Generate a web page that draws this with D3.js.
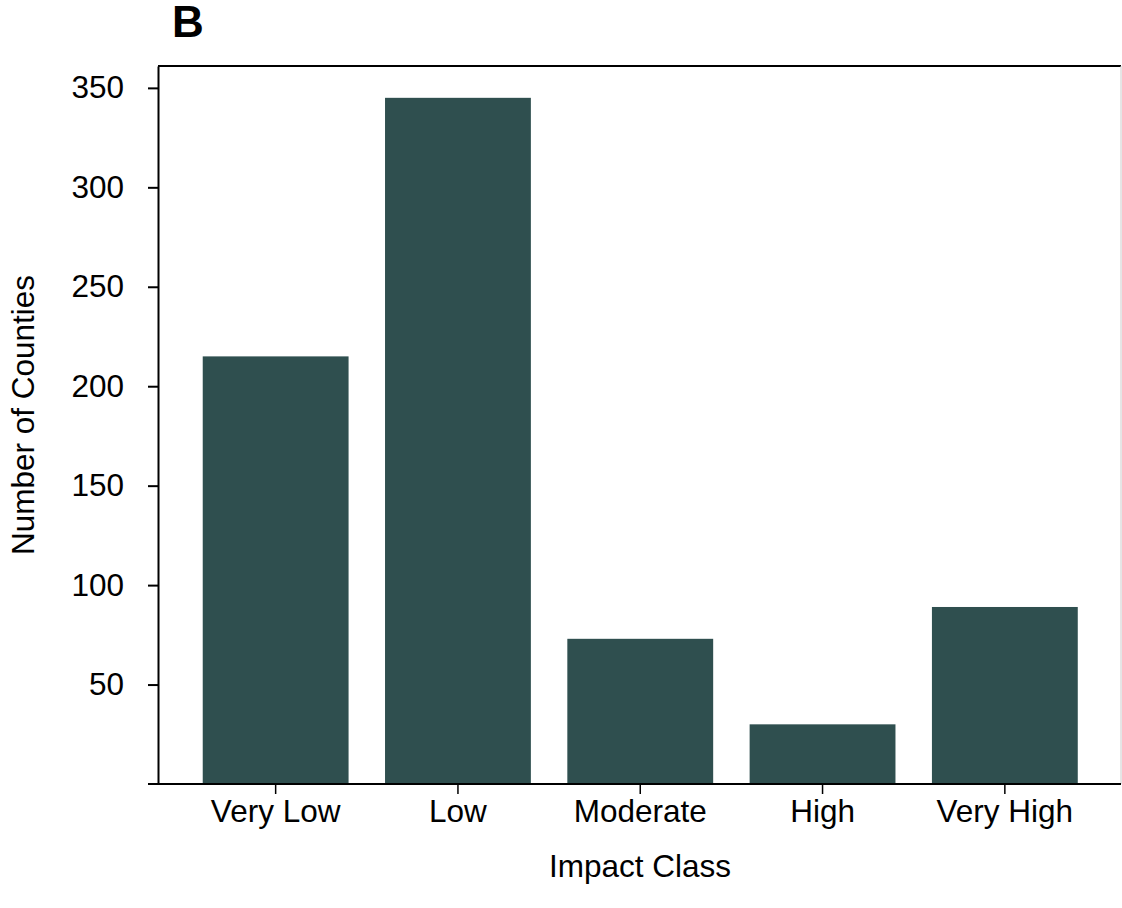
<!DOCTYPE html>
<html>
<head>
<meta charset="utf-8">
<script src="https://cdn.jsdelivr.net/npm/d3@7"></script>
<style>
  body { margin: 0; background: #fff; }
  svg { display: block; font-family: "Liberation Sans", Arial, sans-serif; }
</style>
</head>
<body>
<div id="chart"></div>
<script>
const categories = ['Very Low', 'Low', 'Moderate', 'High', 'Very High'];
const counts = [215, 345, 73, 30, 89];
const yTicks = [50, 100, 150, 200, 250, 300, 350];

const width = 1122;
const height = 908;
const marginTop = 66;
const marginRight = 1;
const marginBottom = 124;
const marginLeft = 158;
const fontSize = 31.5;

const svg = d3.select('#chart')
  .append('svg')
  .attr('width', width)
  .attr('height', height)
  .attr('viewBox', `0 0 ${width} ${height}`);

const x = d3.scaleBand()
  .domain(categories)
  .range([184.5, 1096])
  .paddingInner(0.2)
  .paddingOuter(0.1);

const y = d3.scaleLinear()
  .domain([0, 361])
  .range([height - marginBottom, marginTop]);

// bars
svg.append('g')
  .selectAll('rect')
  .data(counts)
  .join('rect')
  .attr('x', (d, i) => x(categories[i]))
  .attr('y', d => y(d))
  .attr('width', x.bandwidth())
  .attr('height', d => y(0) - y(d))
  .attr('fill', '#2f4f4f');

// frame top + right
svg.append('line')
  .attr('x1', marginLeft).attr('x2', width - marginRight)
  .attr('y1', marginTop).attr('y2', marginTop)
  .attr('stroke', '#000').attr('stroke-width', 2);
svg.append('line')
  .attr('x1', width - marginRight).attr('x2', width - marginRight)
  .attr('y1', marginTop).attr('y2', height - marginBottom)
  .attr('stroke', '#ccc').attr('stroke-width', 1);

// y axis
svg.append('g')
  .attr('transform', `translate(${marginLeft},0)`)
  .call(d3.axisLeft(y).tickValues(yTicks).tickSize(10).tickPadding(24).tickSizeOuter(0))
  .call(g => g.select('.domain').attr('stroke-width', 2))
  .call(g => g.selectAll('.tick line').attr('stroke-width', 2))
  .call(g => g.selectAll('.tick text')
    .attr('font-size', fontSize)
    .attr('font-family', '"Liberation Sans", Arial, sans-serif')
    .attr('fill', '#000'));

// x axis
svg.append('g')
  .attr('transform', `translate(0,${y(0)})`)
  .call(d3.axisBottom(x).tickSize(10).tickPadding(6).tickSizeOuter(0))
  .call(g => g.select('.domain').remove())
  .call(g => g.selectAll('.tick line').attr('stroke-width', 1.5))
  .call(g => g.selectAll('.tick text')
    .attr('font-size', fontSize)
    .attr('font-family', '"Liberation Sans", Arial, sans-serif')
    .attr('fill', '#000'));

svg.append('line')
  .attr('x1', marginLeft - 10).attr('x2', width - marginRight)
  .attr('y1', y(0)).attr('y2', y(0))
  .attr('stroke', '#000').attr('stroke-width', 2);

// axis titles
svg.append('text')
  .attr('x', 640)
  .attr('y', 877)
  .attr('text-anchor', 'middle')
  .attr('font-size', fontSize)
  .text('Impact Class');

svg.append('text')
  .attr('transform', `translate(34,415) rotate(-90)`)
  .attr('text-anchor', 'middle')
  .attr('font-size', fontSize)
  .text('Number of Counties');

// panel letter
svg.append('text')
  .attr('x', 172)
  .attr('y', 37)
  .attr('font-size', 44)
  .attr('font-weight', 'bold')
  .text('B');
</script>
</body>
</html>
